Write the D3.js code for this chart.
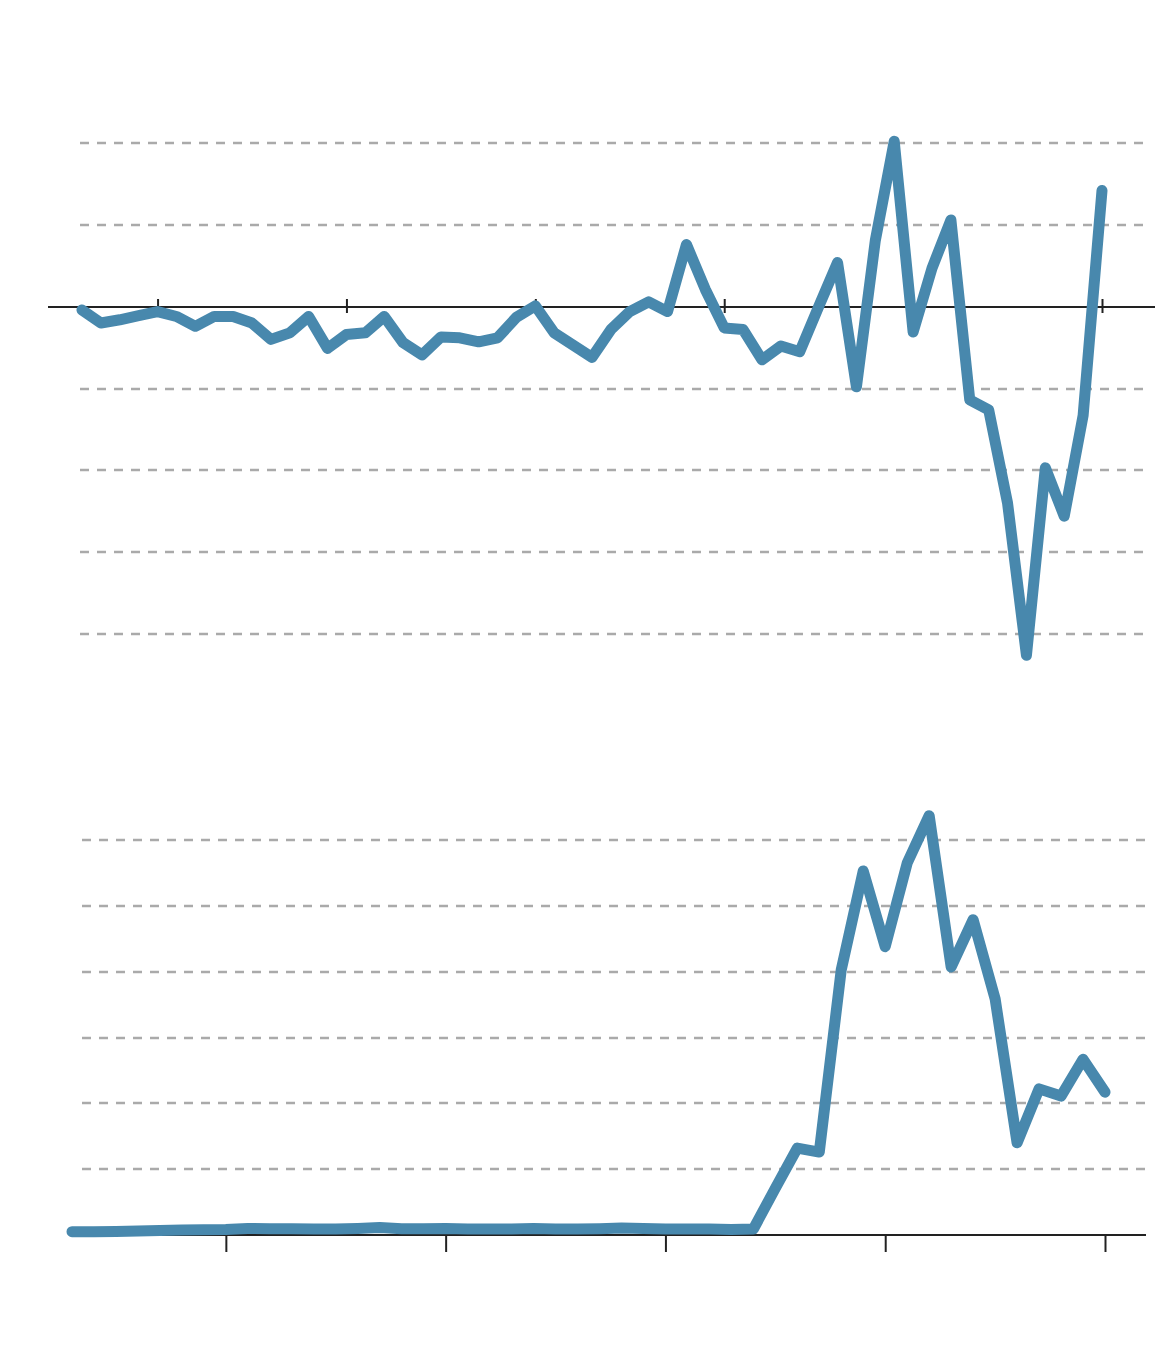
<!DOCTYPE html>
<html>
<head>
<meta charset="utf-8">
<script src="https://cdn.jsdelivr.net/npm/d3@7"></script>
<style>
  html, body { margin: 0; padding: 0; background: #fff; }
  svg { display: block; }
</style>
</head>
<body>
<svg id="chart" width="1160" height="1360"></svg>
<script>
// ---- Data ----
// Top panel: change series (55 periods), grid every 10 units
const topValues = [
  -0.4, -2.0, -1.6, -1.1, -0.6, -1.2, -2.4, -1.2, -1.2, -2.0,
  -4.0, -3.2, -1.2, -5.1, -3.4, -3.2, -1.2, -4.4, -5.9, -3.7,
  -3.8, -4.3, -3.8, -1.3, 0.1, -3.2, -4.7, -6.2, -2.8, -0.6,
  0.6, -0.6, 7.6, 2.1, -2.6, -2.8, -6.5, -4.8, -5.5, 0.0,
  5.4, -9.8, 8.1, 20.2, -3.1, 4.7, 10.6, -11.4, -12.6, -24.0,
  -42.6, -19.7, -25.6, -13.3, 14.2
];
const topGrid = [20, 10, -10, -20, -30, -40];
const topTicks = [4, 14, 24, 34, 44, 54];

// Bottom panel: level series (48 periods)
const bottomValues = [
  0.5, 0.5, 0.55, 0.6, 0.7, 0.75, 0.8, 0.85, 1.0, 0.95,
  0.95, 0.9, 0.9, 1.0, 1.15, 0.95, 0.95, 1.0, 0.9, 0.9,
  0.9, 1.0, 0.9, 0.9, 0.95, 1.05, 1.0, 0.9, 0.9, 0.9,
  0.85, 0.9, 7.1, 13.2, 12.6, 40.3, 55.3, 43.8, 56.5, 63.7,
  40.7, 47.9, 35.9, 14.0, 22.2, 21.1, 26.7, 21.7
];
const bottomGrid = [10, 20, 30, 40, 50, 60];
const bottomTicks = [7, 17, 27, 37, 47];

const lineColor = "#4888ad";
const gridColor = "#aaaaaa";
const axisColor = "#222";

const svg = d3.select("#chart");

// ---- Top panel ----
const xTop = d3.scaleLinear().domain([0, topValues.length - 1]).range([82, 1102]);
const yTop = d3.scaleLinear().domain([-40, 20]).range([634, 143]);

const gTop = svg.append("g");
gTop.selectAll("line.grid").data(topGrid).join("line")
  .attr("class", "grid")
  .attr("x1", 80).attr("x2", 1147)
  .attr("y1", d => Math.round(yTop(d))).attr("y2", d => Math.round(yTop(d)))
  .attr("stroke", gridColor).attr("stroke-width", 2.5)
  .attr("stroke-dasharray", "9,8");

const topAxis = d3.axisBottom(xTop).tickValues(topTicks).tickSize(14).tickFormat("");
const gTopAxis = gTop.append("g").attr("transform", `translate(0,${Math.round(yTop(0))})`).call(topAxis);
gTopAxis.select(".domain").remove();
gTopAxis.selectAll(".tick line").attr("y1", -8).attr("y2", 6)
  .attr("stroke", axisColor).attr("stroke-width", 2);
gTop.append("line")
  .attr("x1", 48).attr("x2", 1155)
  .attr("y1", Math.round(yTop(0))).attr("y2", Math.round(yTop(0)))
  .attr("stroke", axisColor).attr("stroke-width", 2);

gTop.append("path")
  .datum(topValues)
  .attr("fill", "none")
  .attr("stroke", lineColor)
  .attr("stroke-width", 11)
  .attr("stroke-linejoin", "round")
  .attr("stroke-linecap", "round")
  .attr("d", d3.line().x((d, i) => xTop(i)).y(d => yTop(d)));

// ---- Bottom panel ----
const xBot = d3.scaleLinear().domain([0, bottomValues.length - 1]).range([72, 1105]);
const yBot = d3.scaleLinear().domain([0, 60]).range([1235, 840]);

const gBot = svg.append("g");
gBot.selectAll("line.grid").data(bottomGrid).join("line")
  .attr("class", "grid")
  .attr("x1", 82).attr("x2", 1145)
  .attr("y1", d => Math.round(yBot(d))).attr("y2", d => Math.round(yBot(d)))
  .attr("stroke", gridColor).attr("stroke-width", 2.5)
  .attr("stroke-dasharray", "9,8");

const botAxis = d3.axisBottom(xBot).tickValues(bottomTicks).tickSize(17).tickFormat("");
const gBotAxis = gBot.append("g").attr("transform", `translate(0,${yBot(0)})`).call(botAxis);
gBotAxis.select(".domain").remove();
gBotAxis.selectAll(".tick line").attr("stroke", axisColor).attr("stroke-width", 2);
gBot.append("line")
  .attr("x1", 70).attr("x2", 1146)
  .attr("y1", yBot(0)).attr("y2", yBot(0))
  .attr("stroke", axisColor).attr("stroke-width", 2);

gBot.append("path")
  .datum(bottomValues)
  .attr("fill", "none")
  .attr("stroke", lineColor)
  .attr("stroke-width", 11)
  .attr("stroke-linejoin", "round")
  .attr("stroke-linecap", "round")
  .attr("d", d3.line().x((d, i) => xBot(i)).y(d => yBot(d)));
</script>
</body>
</html>
